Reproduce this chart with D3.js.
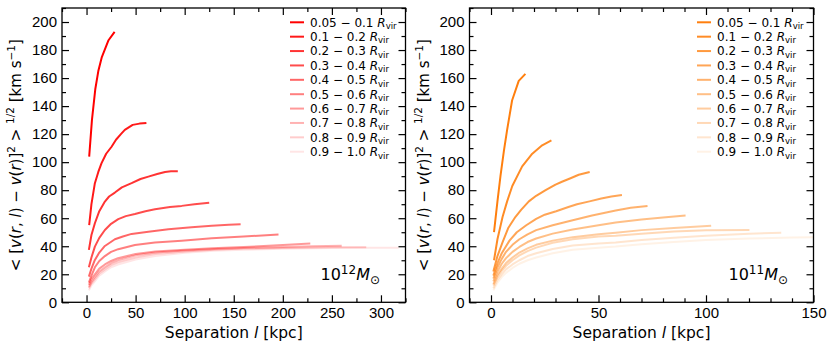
<!DOCTYPE html>
<html>
<head>
<meta charset="utf-8">
<script src="https://cdn.jsdelivr.net/npm/d3@7"></script>
<style>
  body { margin: 0; background: #fff; }
  svg { display: block; font-family: "DejaVu Sans", sans-serif; }
  .tick text { font-size: 15px; fill: #000; }
  .tick line { stroke: #000; }
  .domain { display: none; }
</style>
</head>
<body>
<svg id="chart" width="830" height="346"></svg>
<script>
// Velocity structure function vs separation, two halo masses, ten radial bins.

const binLabels = ["0.05 \u2212 0.1", "0.1 \u2212 0.2", "0.2 \u2212 0.3", "0.3 \u2212 0.4", "0.4 \u2212 0.5",
                   "0.5 \u2212 0.6", "0.6 \u2212 0.7", "0.7 \u2212 0.8", "0.8 \u2212 0.9", "0.9 \u2212 1.0"];
const binAlpha = [1, 0.9, 0.8, 0.7, 0.6, 0.5, 0.4, 0.3, 0.2, 0.1];

// 10^12 Msun halo: [separation kpc, km/s]
const massive = [
  [[2.7,104],[5.5,130],[8.9,152],[12,165],[15.6,175],[19,181],[22.4,187],[28.6,193]],
  [[2.7,55],[5,70],[8.5,85],[12,93],[15.3,99.3],[20,106],[25.5,111],[30,116],[35,120],[39,123],[47,126.6],[54,127.5],[61,128]],
  [[2.4,37.4],[5,48],[8.5,56.4],[13,65],[18.7,71.9],[23,75.5],[28.9,78.3],[36,82],[45.9,85],[55,88],[63,89.7],[72,91.5],[80,93],[86,93.5],[93,93.5]],
  [[2.4,25],[5,32],[8.5,39.7],[13,46],[18.7,51.6],[25,56],[32.3,59.3],[40,61.5],[49.3,63],[60,65],[69.7,66.4],[85,68],[96.9,68.8],[110,70],[125,71.1]],
  [[2.4,18.3],[5,24],[8.5,30.2],[13,35.5],[18.7,40.2],[28.9,45],[37,47],[45.9,48.8],[63,50.4],[83.4,52.1],[107,53.6],[127.6,54.7],[145,55.3],[157,55.7]],
  [[2.4,14],[5,19],[8.5,25],[13,29.5],[18.7,33],[25,36],[32.3,37.9],[49.3,40.9],[69.7,42.6],[96.9,44],[127.6,45.7],[160,47],[195.6,48.3]],
  [[2.4,12.4],[5,16.5],[8.5,20],[13,24],[18.7,27],[25,29.5],[32,31.5],[50,34.5],[70,36.2],[100,37.5],[128,38.6],[160,39.4],[200,40.8],[228,42]],
  [[2.4,11],[5,14.5],[8.5,18],[13,22],[18.7,25],[25,28],[32,30],[50,33.5],[70,35.5],[100,37],[130,38],[160,38.8],[200,39.5],[230,40],[260,40.4]],
  [[2.4,10],[5,13.5],[8.5,16.5],[13,20.5],[18.7,23.5],[25,26.5],[32,28.5],[50,32],[70,34.5],[100,36.3],[130,37.5],[160,38.3],[200,38.8],[250,39.2],[285,39.3]],
  [[2.4,8.5],[5,12],[8.5,15],[13,19],[18.7,22],[25,25],[32,27],[50,30.5],[70,33],[100,35.3],[130,36.7],[160,37.5],[200,38.2],[250,38.8],[290,39],[318,39]]
];

// 10^11 Msun halo
const dwarf = [
  [[1.4,50],[3,72],[4.4,90],[6,108],[7.5,123],[9.8,144],[12.9,158],[16,163]],
  [[1.4,30],[3,45],[5.4,61],[7.5,72],[9.9,83],[14.5,97],[19.2,106],[23.8,112],[28.1,115.5]],
  [[1.1,22],[3,33],[5.4,43],[8,53],[11.4,61],[14,66],[17.6,72],[21,76],[25.4,80],[30,84],[33,86],[37,88.5],[40.8,91],[45.9,93]],
  [[1.1,19],[3,28],[5,35],[8.6,44],[12,50],[16.4,55],[21,59.5],[25,62.5],[30.3,65],[36,68],[40,70],[45.8,72],[51.3,74],[56,75.5],[60.9,76.5]],
  [[1.1,17],[3,25],[5,31],[7,36],[10,41],[13.2,45],[17,48.5],[21,51.5],[28.7,55],[38,58.5],[47,62],[58,65.5],[65,67.5],[72.8,68.8]],
  [[1.1,15],[3,22],[5,27.5],[7,31.5],[10,36],[13.2,39.5],[17,43],[21,45.5],[28.7,49],[38,52],[50,55],[58,57],[70,59],[80,60.5],[90.5,62]],
  [[1.1,13],[3,19.5],[5,24],[7,28],[10,32],[13.2,35.5],[17,38.5],[21,41],[28.7,44],[38,46.5],[50,48.5],[58,49.7],[70,51.5],[85,53],[102.4,54.7]],
  [[1.1,12],[3,18],[5,22.5],[7,26],[10,30],[13.2,33.5],[17,36.5],[21,39],[28.7,42.5],[38,45],[50,47],[58,47.5],[70,49],[85,50.5],[100,51.5],[120.2,51.6]],
  [[1.1,10],[3,16],[5,20],[7,23.5],[10,27],[13.2,30],[17,33],[21,35],[28.7,38],[38,40.5],[50,42],[58,42.6],[70,44.5],[85,46],[100,47.5],[120,49],[135,49.7]],
  [[1.1,8.5],[3,14],[5,18],[7,21],[10,24.5],[13.2,27.5],[17,30],[21,32],[28.7,35],[38,37.5],[50,39],[58,39.8],[70,41.5],[85,43],[100,44.5],[120,45.5],[140,46.3],[150,46.4]]
];

const yTicks = [0, 20, 40, 60, 80, 100, 120, 140, 160, 180, 200];

const panels = [
  { id: "p12", data: massive, color: "#ff0000", xDomain: [-25, 325], xRange: [62, 405.5],
    xMajor: [0, 50, 100, 150, 200, 250, 300], xMinorStep: 25, exp: "12", legendX: 290, yLabelX: 21 },
  { id: "p11", data: dwarf, color: "#ff7f0e", xDomain: [-10, 150], xRange: [469.5, 813.5],
    xMajor: [0, 50, 100, 150], xMinorStep: 10, exp: "11", legendX: 697, yLabelX: 429 }
];

const svg = d3.select("#chart");
const yTop = 8, yBot = 302.3;

function minorTicks(domain, step, majors) {
  const out = [];
  for (let v = Math.ceil(domain[0] / step) * step; v <= domain[1] + 1e-9; v += step) {
    if (!majors.some(m => Math.abs(m - v) < 1e-9)) out.push(v);
  }
  return out;
}

function styleAxis(g) {
  g.selectAll(".tick line").attr("stroke-width", 1.2);
}

panels.forEach(p => {
  const x = d3.scaleLinear().domain(p.xDomain).range(p.xRange);
  const y = d3.scaleLinear().domain([0, 210]).range([yBot, yTop]);
  const [x0, x1] = p.xRange;
  const g = svg.append("g").attr("id", p.id);

  // clip so long curves stop at the frame
  svg.append("clipPath").attr("id", "clip-" + p.id)
    .append("rect").attr("x", x0).attr("y", yTop).attr("width", x1 - x0).attr("height", yBot - yTop);

  const line = d3.line().x(d => x(d[0])).y(d => y(d[1]));
  g.append("g").attr("clip-path", `url(#clip-${p.id})`)
    .selectAll("path")
    .data(p.data)
    .join("path")
    .attr("d", line)
    .attr("fill", "none")
    .attr("stroke", p.color)
    .attr("stroke-opacity", (d, i) => binAlpha[i])
    .attr("stroke-width", 2)
    .attr("stroke-linejoin", "round");

  const xMinor = minorTicks(p.xDomain, p.xMinorStep, p.xMajor);
  const yMinor = minorTicks([0, 210], 10, yTicks);

  // major + minor ticks on all four sides, pointing inward
  g.append("g").attr("transform", `translate(0,${yBot})`)
    .call(d3.axisBottom(x).tickValues(p.xMajor).tickSize(-7).tickPadding(5).tickFormat(d3.format("d"))).call(styleAxis);
  g.append("g").attr("transform", `translate(0,${yBot})`)
    .call(d3.axisBottom(x).tickValues(xMinor).tickSize(-4).tickFormat("")).call(styleAxis);
  g.append("g").attr("transform", `translate(0,${yTop})`)
    .call(d3.axisTop(x).tickValues(p.xMajor).tickSize(-7).tickFormat("")).call(styleAxis);
  g.append("g").attr("transform", `translate(0,${yTop})`)
    .call(d3.axisTop(x).tickValues(xMinor).tickSize(-4).tickFormat("")).call(styleAxis);
  g.append("g").attr("transform", `translate(${x0},0)`)
    .call(d3.axisLeft(y).tickValues(yTicks).tickSize(-7).tickPadding(5).tickFormat(d3.format("d"))).call(styleAxis);
  g.append("g").attr("transform", `translate(${x0},0)`)
    .call(d3.axisLeft(y).tickValues(yMinor).tickSize(-4).tickFormat("")).call(styleAxis);
  g.append("g").attr("transform", `translate(${x1},0)`)
    .call(d3.axisRight(y).tickValues(yTicks).tickSize(-7).tickFormat("")).call(styleAxis);
  g.append("g").attr("transform", `translate(${x1},0)`)
    .call(d3.axisRight(y).tickValues(yMinor).tickSize(-4).tickFormat("")).call(styleAxis);

  g.append("rect").attr("x", x0).attr("y", yTop).attr("width", x1 - x0).attr("height", yBot - yTop)
    .attr("fill", "none").attr("stroke", "#000").attr("stroke-width", 1.3);

  // legend
  const leg = g.append("g");
  p.data.forEach((s, i) => {
    const ly = 22.3 + i * 14.38;
    leg.append("line").attr("x1", p.legendX).attr("x2", p.legendX + 14)
      .attr("y1", ly).attr("y2", ly)
      .attr("stroke", p.color).attr("stroke-opacity", binAlpha[i]).attr("stroke-width", 2);
    const t = leg.append("text").attr("x", p.legendX + 20).attr("y", ly + 4.3).attr("font-size", 12);
    t.append("tspan").text(binLabels[i] + " ");
    t.append("tspan").attr("font-style", "italic").text("R");
    t.append("tspan").attr("font-size", 8.5).attr("dy", 2.5).text("vir");
  });

  // halo mass note
  const note = g.append("text").attr("x", x1 - 85).attr("y", 280).attr("font-size", 16);
  note.append("tspan").text("10");
  note.append("tspan").attr("font-size", 12).attr("dy", -6).text(p.exp);
  note.append("tspan").attr("font-style", "italic").attr("dy", 6).text("M");
  note.append("tspan").attr("font-size", 12).attr("dy", 4).text("\u2299");

  // x label
  const xl = g.append("text").attr("x", (x0 + x1) / 2).attr("y", 338)
    .attr("text-anchor", "middle").attr("font-size", 15.5);
  xl.append("tspan").text("Separation ");
  xl.append("tspan").attr("font-style", "italic").text("l");
  xl.append("tspan").text(" [kpc]");

  // y label
  const yl = g.append("text")
    .attr("transform", `translate(${p.yLabelX},${(yTop + yBot) / 2}) rotate(-90)`)
    .attr("text-anchor", "middle").attr("font-size", 15);
  yl.append("tspan").text("< [");
  yl.append("tspan").attr("font-style", "italic").text("v");
  yl.append("tspan").text("(");
  yl.append("tspan").attr("font-style", "italic").text("r");
  yl.append("tspan").text(", ");
  yl.append("tspan").attr("font-style", "italic").text("l");
  yl.append("tspan").text(") \u2212 ");
  yl.append("tspan").attr("font-style", "italic").text("v");
  yl.append("tspan").text("(");
  yl.append("tspan").attr("font-style", "italic").text("r");
  yl.append("tspan").text(")]");
  yl.append("tspan").attr("font-size", 10.5).attr("dy", -6).text("2");
  yl.append("tspan").attr("dy", 6).text(" > ");
  yl.append("tspan").attr("font-size", 10.5).attr("dy", -7).text("1/2");
  yl.append("tspan").attr("dy", 7).text(" [km s");
  yl.append("tspan").attr("font-size", 10.5).attr("dy", -6).text("\u22121");
  yl.append("tspan").attr("dy", 6).text("]");
});
</script>
</body>
</html>
